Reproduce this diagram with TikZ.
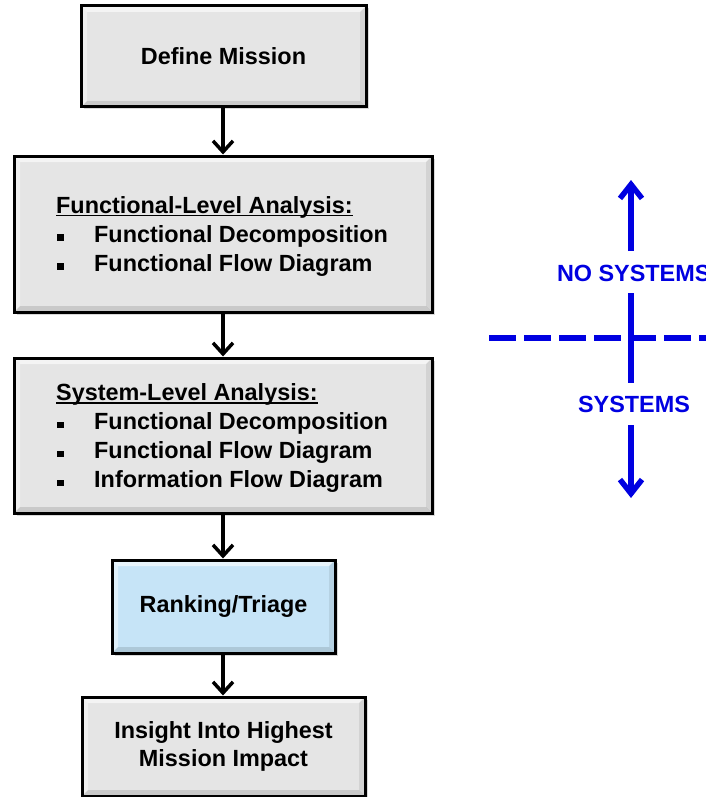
\documentclass[tikz,border=0pt]{standalone}
\usepackage{fontspec}
\setmainfont{Liberation Sans}
\usetikzlibrary{arrows.meta,shadows}

\definecolor{boxgray}{RGB}{229,229,229}
\definecolor{boxblue}{RGB}{198,228,247}
\definecolor{sysblue}{RGB}{0,0,225}

% underlined heading with a heavier rule
\newcommand{\headline}[1]{\setbox0\hbox{#1}\rlap{\rule[-3.2pt]{\wd0}{1.7pt}}\box0}
% square list bullet followed by the item indent
\newcommand{\sqbul}{\makebox[38pt][l]{\hspace*{1pt}\rule[1.5pt]{6.5pt}{6.5pt}}}

\begin{document}
\begin{tikzpicture}[x=1pt,y=-1pt,
  every node/.style={font=\fontsize{23.4}{29}\selectfont\bfseries},
  bevel/.style={path picture={
    \fill[white,opacity=.6]
      (path picture bounding box.north west) -- (path picture bounding box.north east)
      -- ([shift={(-6pt,-6pt)}]path picture bounding box.north east)
      -- ([shift={(6pt,-6pt)}]path picture bounding box.north west) -- cycle;
    \fill[white,opacity=.45]
      (path picture bounding box.north west) -- (path picture bounding box.south west)
      -- ([shift={(6pt,6pt)}]path picture bounding box.south west)
      -- ([shift={(6pt,-6pt)}]path picture bounding box.north west) -- cycle;
    \fill[black,opacity=.12]
      (path picture bounding box.south west) -- (path picture bounding box.south east)
      -- ([shift={(-6pt,6pt)}]path picture bounding box.south east)
      -- ([shift={(6pt,6pt)}]path picture bounding box.south west) -- cycle;
    \fill[black,opacity=.08]
      (path picture bounding box.north east) -- (path picture bounding box.south east)
      -- ([shift={(-6pt,6pt)}]path picture bounding box.south east)
      -- ([shift={(-6pt,-6pt)}]path picture bounding box.north east) -- cycle;
  }},
  flowbox/.style={draw=black, line width=3pt, fill=boxgray, inner sep=0pt,
    align=center, bevel,
    drop shadow={shadow xshift=2.5pt, shadow yshift=-2.5pt, opacity=.3}},
  listtext/.style={anchor=west, inner sep=0pt, align=left},
  flowarrow/.style={line width=3.5pt, -{Straight Barb[length=11pt,width=20pt]}},
  sysarrow/.style={sysblue, line width=5.5pt, -{Straight Barb[length=14pt,width=22pt]}},
  systext/.style={sysblue, inner sep=0pt, outer sep=0pt}
]
\clip (0,0) rectangle (706,797);

% flow boxes
\node[flowbox, minimum width=285pt, minimum height=101pt] (mission) at (223.5,56.5) {Define Mission};
\node[flowbox, minimum width=418pt, minimum height=156pt] (funclvl) at (223,234) {};
\node[flowbox, minimum width=418pt, minimum height=155pt] (syslvl) at (223,435.5) {};
\node[flowbox, fill=boxblue, minimum width=223pt, minimum height=93pt] (triage) at (223.5,606.5) {Ranking/Triage};
\node[flowbox, minimum width=283pt, minimum height=99pt, font=\fontsize{23.4}{28}\selectfont\bfseries] (insight) at (223.5,746.5) {Insight Into Highest\\Mission Impact};

% box contents
\node[listtext] (funclvltext) at (56,236) {\headline{Functional-Level Analysis:}\\
  \sqbul Functional Decomposition\\
  \sqbul Functional Flow Diagram};
\node[listtext] (syslvltext) at (56,438) {\headline{System-Level Analysis:}\\
  \sqbul Functional Decomposition\\
  \sqbul Functional Flow Diagram\\
  \sqbul Information Flow Diagram};

% flow connectors
\draw[flowarrow] (mission.south -| 223,0) -- (funclvl.north -| 223,0);
\draw[flowarrow] (funclvl.south -| 223,0) -- (syslvl.north -| 223,0);
\draw[flowarrow] (syslvl.south -| 223,0) -- (triage.north -| 223,0);
\draw[flowarrow] (triage.south -| 223,0) -- (insight.north -| 223,0);

% systems / no-systems boundary
\coordinate (lineL) at (489,338);
\coordinate (lineR) at (712,338);
\draw[sysblue, line width=5.5pt, dash pattern=on 27pt off 8pt] (lineL) -- (lineR);

\coordinate (topTip) at (631,180);
\coordinate (botTip) at (631,498);
\node[systext, anchor=west] (nosys) at (557,273) {NO SYSTEMS};
\node[systext] (sys) at (634,404) {SYSTEMS};

\draw[sysarrow] (631,251) -- (topTip);
\draw[sysblue, line width=5.5pt] (631,293) -- (631,383);
\draw[sysarrow] (631,425) -- (botTip);
\end{tikzpicture}
\end{document}
